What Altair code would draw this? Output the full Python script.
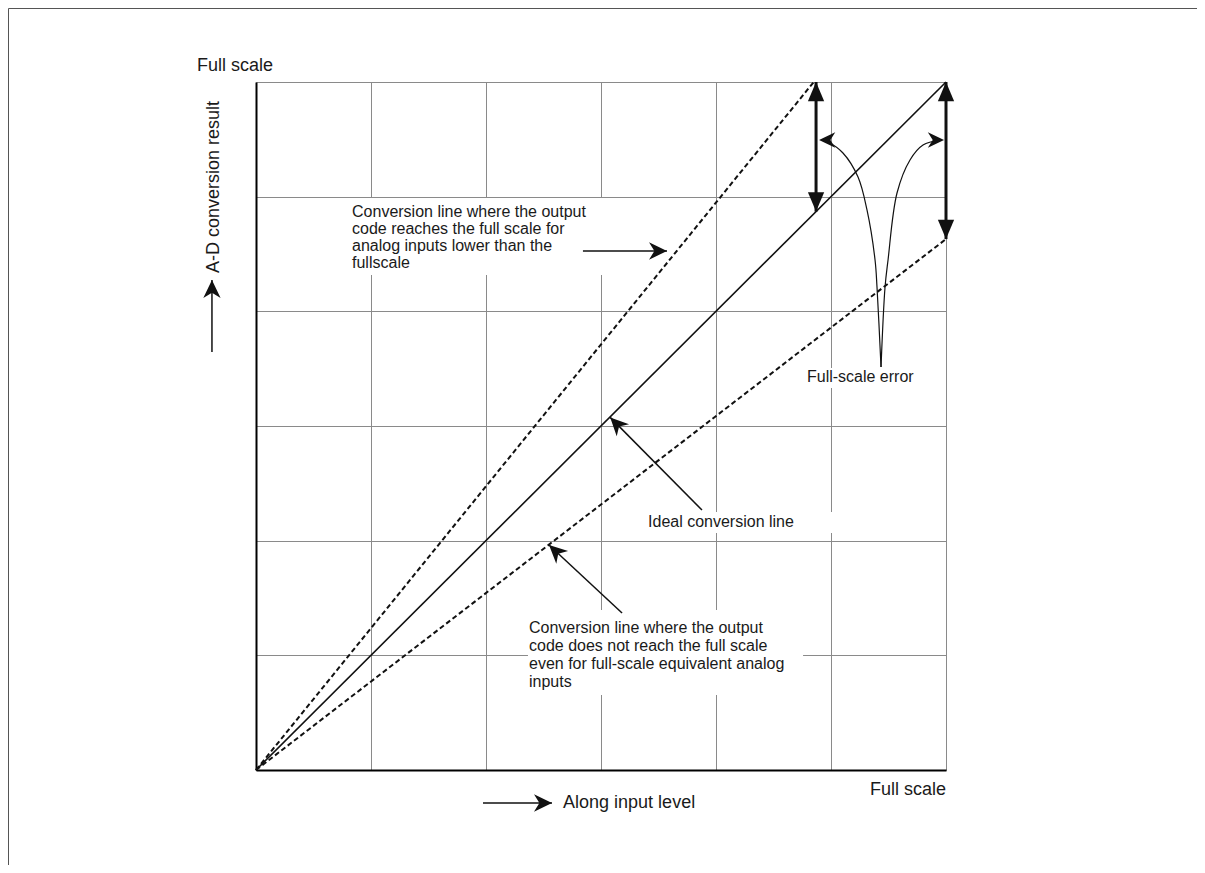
import math
import altair as alt
import pandas as pd

FONT = "Liberation Sans"
INK = "#111111"
GRID = "#8a8a8a"

# ---------------- data (grid units: full scale = 6) ----------------
grid_ticks = [0, 1, 2, 3, 4, 5, 6]

# conversion lines
ideal_x = [0.0, 6.0]
ideal_y = [0.0, 6.0]
dashed_x1 = [0.0, 0.0]
dashed_y1 = [0.0, 0.0]
dashed_x2 = [4.85, 6.0]
dashed_y2 = [6.0, 4.63]

# full-scale error double arrows
err_x = [4.87, 6.0]
err_top = [6.0, 6.0]
err_bottom = [4.87, 4.63]

# straight annotation arrows (tail -> tip)
arrow_x1 = [2.843, 3.878, 3.183, 1.974, -0.383]
arrow_y1 = [4.526, 2.267, 1.369, -0.288, 3.645]
arrow_x2 = [3.574, 3.080, 2.548, 2.574, -0.383]
arrow_y2 = [4.526, 3.075, 1.962, -0.288, 4.273]

# curved arrows from the "Full-scale error" label
curve_left_x = [5.435, 5.400, 5.383, 5.313, 5.235, 5.104, 4.974, 4.922]
curve_left_y = [3.515, 4.212, 4.448, 4.884, 5.171, 5.381, 5.477, 5.494]
curve_right_x = [5.435, 5.470, 5.496, 5.574, 5.687, 5.800, 5.948]
curve_right_y = [3.515, 4.212, 4.448, 5.032, 5.320, 5.450, 5.494]
curve_tip_x = [4.896, 5.983]
curve_tip_y = [5.494, 5.494]
curve_tip_angle = [270, 90]

# annotation texts
upper_note = ["Conversion line where the output\ncode reaches the full scale for\nanalog inputs lower than the\nfullscale"]
upper_note_x = [0.835]
upper_note_y = [4.825]
lower_note = ["Conversion line where the output\ncode does not reach the full scale\neven for full-scale equivalent analog\ninputs"]
lower_note_x = [2.374]
lower_note_y = [1.192]
short_note = ["Ideal conversion line", "Full-scale error"]
short_note_x = [3.409, 4.791]
short_note_y = [2.122, 3.381]

# white label backgrounds (hide grid behind notes)
box_x1 = [0.774, 3.339, 2.365, 4.730]
box_x2 = [3.122, 5.122, 4.757, 5.843]
box_y1 = [4.317, 2.067, 0.654, 3.331]
box_y2 = [4.988, 2.250, 1.395, 3.506]

# axis-style labels
rlabel_text = ["Full scale", "Full scale"]
rlabel_x = [0.148, 6.0]
rlabel_y = [6.096, -0.218]
along_text = ["Along input level"]
along_x = [2.670]
along_y = [-0.288]
ylabel_text = ["A-D conversion result"]
ylabel_x = [-0.365]
ylabel_y = [4.334]

# ---------------- helpers ----------------
xs = alt.Scale(domain=[0, 6], nice=False, zero=False)
ys = alt.Scale(domain=[0, 6], nice=False, zero=False)
xaxis = alt.Axis(values=grid_ticks, labels=False, ticks=False, title=None,
                 domainColor="black", domainWidth=2, gridColor=GRID, gridWidth=1,
                 grid=True, gridOpacity=1)
yaxis = alt.Axis(values=grid_ticks, labels=False, ticks=False, title=None,
                 domainColor="black", domainWidth=2, gridColor=GRID, gridWidth=1,
                 grid=True, gridOpacity=1)


def X(f):
    return alt.X(f, type="quantitative", scale=xs, axis=xaxis)


def Y(f):
    return alt.Y(f, type="quantitative", scale=ys, axis=yaxis)


TRI = "M0,0 L0.42,1 L-0.42,1 Z"
NOTCH = "M0,0 L0.48,1 L0,0.7 L-0.48,1 Z"


def ang(dx, dy):
    return (math.degrees(math.atan2(dx, dy)) + 360) % 360


# ---------------- layers ----------------
boxes = alt.Chart(pd.DataFrame({"x": box_x1, "x2": box_x2, "y": box_y1, "y2": box_y2})).mark_rect(
    color="white", fill="white", opacity=1
).encode(x=X("x"), x2="x2", y=Y("y"), y2="y2")

ideal = alt.Chart(pd.DataFrame({"x": [ideal_x[0]], "y": [ideal_y[0]], "x2": [ideal_x[1]], "y2": [ideal_y[1]]})).mark_rule(
    color=INK, strokeWidth=1.6
).encode(x=X("x"), y=Y("y"), x2="x2", y2="y2")

dashed = alt.Chart(pd.DataFrame({"x": dashed_x1, "y": dashed_y1, "x2": dashed_x2, "y2": dashed_y2})).mark_rule(
    color=INK, strokeWidth=2, strokeDash=[5, 3]
).encode(x=X("x"), y=Y("y"), x2="x2", y2="y2")

err_df = pd.DataFrame({"x": err_x, "y": err_top, "y2": err_bottom})
err_shaft = alt.Chart(err_df).mark_rule(color=INK, strokeWidth=3).encode(x=X("x"), y=Y("y"), y2="y2")
err_heads_df = pd.DataFrame({
    "x": err_x + err_x,
    "y": err_top + err_bottom,
    "a": [0, 0, 180, 180],
})
err_heads = alt.Chart(err_heads_df).mark_point(shape=TRI, filled=True, size=1500, color=INK, opacity=1).encode(
    x=X("x"), y=Y("y"), angle=alt.Angle("a:Q", scale=None)
)

arr_df = pd.DataFrame({"x": arrow_x1, "y": arrow_y1, "x2": arrow_x2, "y2": arrow_y2})
arr_df["a"] = [ang(b - a, d - c) for a, b, c, d in zip(arrow_x1, arrow_x2, arrow_y1, arrow_y2)]
arr_shaft = alt.Chart(arr_df).mark_rule(color=INK, strokeWidth=1.5).encode(x=X("x"), y=Y("y"), x2="x2", y2="y2")
arr_heads = alt.Chart(arr_df).mark_point(shape=NOTCH, filled=True, size=1300, color=INK, opacity=1).encode(
    x=X("x2"), y=Y("y2"), angle=alt.Angle("a:Q", scale=None)
)

curve_df = pd.DataFrame({
    "x": curve_left_x + curve_right_x,
    "y": curve_left_y + curve_right_y,
    "c": ["L"] * len(curve_left_x) + ["R"] * len(curve_right_x),
    "o": list(range(len(curve_left_x))) + list(range(len(curve_right_x))),
})
curves = alt.Chart(curve_df).mark_line(color=INK, strokeWidth=1.2, interpolate="catmull-rom").encode(
    x=X("x"), y=Y("y"), detail="c:N", order="o:Q"
)
curve_heads = alt.Chart(pd.DataFrame({"x": curve_tip_x, "y": curve_tip_y, "a": curve_tip_angle})).mark_point(
    shape=NOTCH, filled=True, size=1050, color=INK, opacity=1
).encode(x=X("x"), y=Y("y"), angle=alt.Angle("a:Q", scale=None))

upper = alt.Chart(pd.DataFrame({"x": upper_note_x, "y": upper_note_y, "t": upper_note})).mark_text(
    align="left", baseline="alphabetic", font=FONT, fontSize=16, lineBreak="\n", lineHeight=17, color="#1a1a1a"
).encode(x=X("x"), y=Y("y"), text="t:N")

lower = alt.Chart(pd.DataFrame({"x": lower_note_x, "y": lower_note_y, "t": lower_note})).mark_text(
    align="left", baseline="alphabetic", font=FONT, fontSize=16, lineBreak="\n", lineHeight=18, color="#1a1a1a"
).encode(x=X("x"), y=Y("y"), text="t:N")

shorts = alt.Chart(pd.DataFrame({"x": short_note_x, "y": short_note_y, "t": short_note})).mark_text(
    align="left", baseline="alphabetic", font=FONT, fontSize=16, color="#1a1a1a"
).encode(x=X("x"), y=Y("y"), text="t:N")

rlabels = alt.Chart(pd.DataFrame({"x": rlabel_x, "y": rlabel_y, "t": rlabel_text})).mark_text(
    align="right", baseline="alphabetic", font=FONT, fontSize=18, color="#1a1a1a"
).encode(x=X("x"), y=Y("y"), text="t:N")

along = alt.Chart(pd.DataFrame({"x": along_x, "y": along_y, "t": along_text})).mark_text(
    align="left", baseline="middle", font=FONT, fontSize=18, color="#1a1a1a"
).encode(x=X("x"), y=Y("y"), text="t:N")

ylabel = alt.Chart(pd.DataFrame({"x": ylabel_x, "y": ylabel_y, "t": ylabel_text})).mark_text(
    align="left", baseline="middle", font=FONT, fontSize=18, angle=270, color="#1a1a1a"
).encode(x=X("x"), y=Y("y"), text="t:N")

frame_src = pd.DataFrame({"k": [0]})
frame_left = alt.Chart(frame_src).mark_rule(color="#555555", strokeWidth=1).encode(
    x=alt.value(-247.5), x2=alt.value(-247.5), y=alt.value(-73.5), y2=alt.value(783)
)
frame_top = alt.Chart(frame_src).mark_rule(color="#555555", strokeWidth=1).encode(
    x=alt.value(-247.5), x2=alt.value(941), y=alt.value(-73.5), y2=alt.value(-73.5)
)

chart = alt.layer(
    boxes, ideal, dashed, err_shaft, err_heads, arr_shaft, arr_heads,
    curves, curve_heads, upper, lower, shorts, rlabels, along, ylabel, frame_left, frame_top,
).properties(
    width=690, height=688,
    autosize=alt.AutoSizeParams(type="none"),
    padding={"left": 248, "top": 74, "right": 251, "bottom": 95},
).configure_view(
    stroke=GRID, strokeWidth=1
).configure(
    background="white"
)

chart.save("out.html", embed_options={"renderer": "svg", "actions": False})
